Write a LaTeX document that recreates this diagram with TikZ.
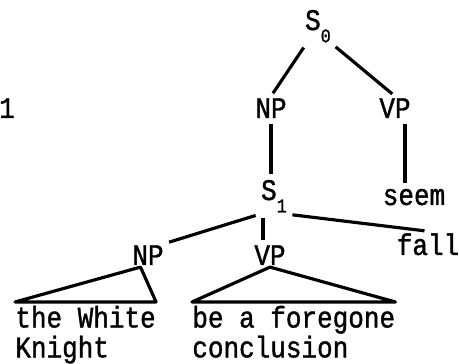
\documentclass[tikz,border=0pt]{standalone}
\usepackage{fontspec}
\setmainfont[FakeStretch=0.87, FakeBold=1.2]{Liberation Mono}
\usetikzlibrary{positioning, calc}

% lowered subscript as typed on the machine
\newcommand{\typesub}[1]{\raisebox{-7pt}{\fontsize{11}{11}\selectfont #1}}

\begin{document}
\begin{tikzpicture}[
    % Styles
    phrase/.style={ % Category labels
        inner sep=1pt,
        font=\fontsize{17}{17}\selectfont
    },
    leaf/.style={ % Words under the triangles
        inner xsep=0pt,
        inner ysep=2pt,
        align=left,
        font=\fontsize{17}{17}\selectfont
    },
    branch/.style={ % Tree edges
        line width=1.8pt,
        shorten <=2pt,
        shorten >=2pt
    },
    roof/.style={ % Triangles
        line width=1.8pt,
        line join=round
    }
]
    \useasboundingbox (0,0) rectangle (9.18,7.28);

    % Top sentence
    \node [phrase, anchor=base west] (s0) at (6.06,6.68) {S\typesub{0}};
    \node [phrase, anchor=base] (np0) at (5.42,4.92) {NP};
    \node [phrase, anchor=base] (vp0) at (7.90,4.92) {VP};
    \node [phrase, anchor=base] (seem) at (8.28,3.18) {seem};
    \node [phrase, anchor=base] (one) at (0.14,4.92) {1};

    % Embedded sentence
    \node [phrase, anchor=base west] (s1) at (5.18,3.28) {S\typesub{1}};
    \node [phrase, anchor=base] (np1) at (2.96,1.98) {NP};
    \node [phrase, anchor=base] (vp1) at (5.40,1.98) {VP};
    \node [phrase, anchor=base] (fall) at (8.56,2.18) {fall};

    % Words
    \node [leaf, anchor=north west] (knight) at (0.30,1.24) {the White\\Knight};
    \node [leaf, anchor=north west] (forgone) at (3.84,1.24) {be a foregone\\conclusion};

    % Feet of the vertical edges
    \coordinate (vpfoot) at ($(vp0.south)+(0.2,0)$);
    \coordinate (sfoot) at ($(s1.south west)+(0.08,0)$);

    % Edges
    \draw [branch] (s0) -- (np0.north);
    \draw [branch] (s0.south east) -- (vp0.north);
    \draw [branch] (np0) -- (np0 |- s1.north);
    \draw [branch] (vpfoot) -- (vpfoot |- seem.north);
    \draw [branch] (s1.south west) -- (np1.north east);
    \draw [branch] (sfoot) -- (sfoot |- vp1.north);
    \draw [branch] (s1.south east) -- (fall.north);

    % Triangles
    \draw [roof] ($(np1.south)+(-0.15,0)$) -- (knight.north west) -- (knight.north east) -- cycle;
    \draw [roof] (vp1.south) -- (forgone.north west) -- (forgone.north east) -- cycle;
\end{tikzpicture}
\end{document}
